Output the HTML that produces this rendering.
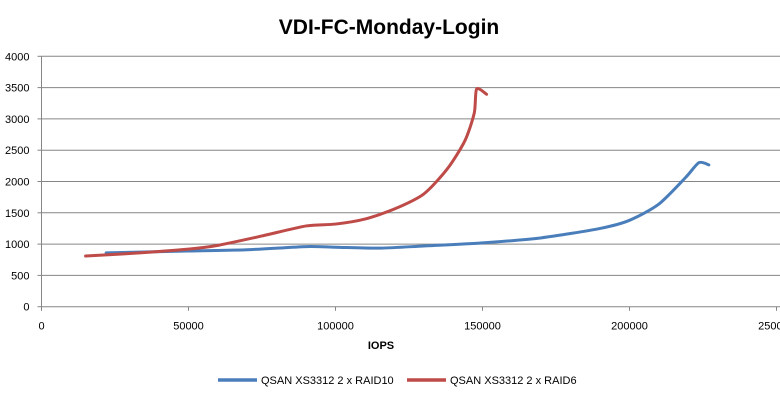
<!DOCTYPE html>
<html><head><meta charset="utf-8"><style>
body{margin:0;background:#fff}
svg{display:block;font-family:"Liberation Sans",Arial,sans-serif}
</style></head><body>
<svg id="chart" width="780" height="401" viewBox="0 0 780 401" xmlns="http://www.w3.org/2000/svg">
<rect x="0" y="0" width="780" height="401" fill="#fff"/>
<text x="389" y="34" text-anchor="middle" font-size="21" font-weight="bold" fill="#000">VDI-FC-Monday-Login</text>
<g id="grid"></g><g id="axes"></g><g id="series"></g>
<text x="381" y="349" text-anchor="middle" font-size="11" font-weight="bold" fill="#000">IOPS</text>
<g>
<g><line x1="218" y1="380" x2="257" y2="380" stroke="#4a7ebb" stroke-width="3.5"/><text x="261" y="384" font-size="11" fill="#000">QSAN XS3312 2 x RAID10</text></g>
<g><line x1="407" y1="380" x2="446" y2="380" stroke="#be4b48" stroke-width="3.5"/><text x="450" y="384" font-size="11" fill="#000">QSAN XS3312 2 x RAID6</text></g>
</g>
</svg>
<script>
const xTicks=[0,50000,100000,150000,200000,250000];
const yTicks=[0,500,1000,1500,2000,2500,3000,3500,4000];
const blueX=[22000,50000,70000,90000,100000,115000,130000,150000,170000,190000,200000,210000,219000,223600,227000];
const blueY=[860,890,910,960,950,935,970,1020,1100,1250,1380,1640,2060,2300,2265];
const redX=[15000,30000,50000,60000,75000,90000,100000,110000,120000,130000,138000,144000,147200,148000,151400];
const redY=[810,850,920,980,1130,1290,1320,1400,1560,1800,2200,2650,3094,3478,3393];
const NS="http://www.w3.org/2000/svg";
const X0=41.5,XS=147/50000,Y0=306.7,YS=250.4/4000;
const sx=v=>X0+v*XS, sy=v=>Y0-v*YS;
function mk(t,a,p){const e=document.createElementNS(NS,t);for(const k in a)e.setAttribute(k,a[k]);p.appendChild(e);return e;}
const grid=document.getElementById('grid'),axes=document.getElementById('axes'),ser=document.getElementById('series');
yTicks.forEach(v=>{
 const l=mk('line',{x1:X0,x2:780,y1:sy(v),y2:sy(v),stroke:'#868686','stroke-width':1},grid);
 
 
 mk('line',{x1:X0-4,x2:X0,y1:sy(v),y2:sy(v),stroke:'#868686'},axes);
 const t=mk('text',{x:X0-12,y:sy(v)+4,'text-anchor':'end','font-size':11,fill:'#000'},axes);
 t.textContent=v;
 
 
});
mk('line',{x1:X0,x2:X0,y1:sy(4000),y2:Y0+4,stroke:'#868686'},axes);
xTicks.forEach(v=>{
 mk('line',{x1:sx(v),x2:sx(v),y1:Y0,y2:Y0+4,stroke:'#868686'},axes);
 const t=mk('text',{x:sx(v),y:Y0+23,'text-anchor':'middle','font-size':11,fill:'#000'},axes);
 t.textContent=v;
 
 
});
function path(xs,ys){
 const p=xs.map((x,i)=>[sx(x),sy(ys[i])]);
 let d=`M${p[0][0]},${p[0][1]}`;
 for(let i=0;i<p.length-1;i++){
  const a=p[Math.max(i-1,0)],b=p[i],c=p[i+1],e=p[Math.min(i+2,p.length-1)];
  const c1=[b[0]+(c[0]-a[0])/8,b[1]+(c[1]-a[1])/8],c2=[c[0]-(e[0]-b[0])/8,c[1]-(e[1]-b[1])/8];
  d+=` C${c1[0]},${c1[1]} ${c2[0]},${c2[1]} ${c[0]},${c[1]}`;
 }
 return d;
}
const b=mk('path',{d:path(blueX,blueY),fill:'none',stroke:'#4a7ebb','stroke-width':3,'stroke-linejoin':'round','stroke-linecap':'round'},ser);


const r=mk('path',{d:path(redX,redY),fill:'none',stroke:'#be4b48','stroke-width':3,'stroke-linejoin':'round','stroke-linecap':'round'},ser);


</script>
</body></html>
